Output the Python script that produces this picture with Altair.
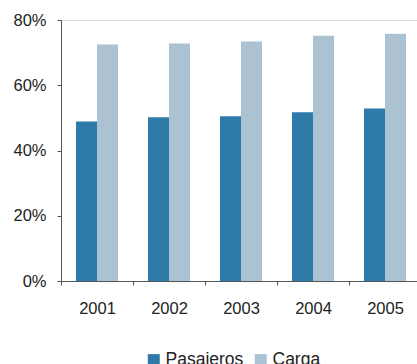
import altair as alt
import pandas as pd

# Share of each traffic type by year
years = ["2001", "2002", "2003", "2004", "2005"]
pasajeros = [0.489, 0.502, 0.505, 0.517, 0.529]
carga = [0.725, 0.728, 0.734, 0.752, 0.758]
series = ["Pasajeros", "Carga"]
colors = ["#2e7aa8", "#aac2d1"]

rows = []
for i, y in enumerate(years):
    rows.append({"year": y, "tipo": "Pasajeros", "valor": pasajeros[i]})
    rows.append({"year": y, "tipo": "Carga", "valor": carga[i]})
df = pd.DataFrame(rows)

FONT = "Liberation Sans"

chart = (
    alt.Chart(df)
    .mark_bar()
    .encode(
        x=alt.X(
            "year:N",
            sort=years,
            scale=alt.Scale(range=[0, 360], paddingInner=0, paddingOuter=0),
            axis=alt.Axis(
                title=None,
                labelAngle=0,
                tickBand="extent",
                tickSize=4,
                labelPadding=15,
                labelFontSize=16.5,
                labelColor="#222222",
                labelFont=FONT,
                domainColor="#555555",
                tickColor="#555555",
            ),
        ),
        xOffset=alt.XOffset(
            "tipo:N",
            sort=series,
            scale=alt.Scale(paddingInner=0, paddingOuter=0.7143),
        ),
        y=alt.Y(
            "valor:Q",
            scale=alt.Scale(domain=[0, 0.8], nice=False),
            axis=alt.Axis(
                title=None,
                values=[0, 0.2, 0.4, 0.6, 0.8],
                format=".0%",
                grid=False,
                tickSize=4,
                labelPadding=11,
                labelFontSize=16.5,
                labelColor="#222222",
                labelFont=FONT,
                domainColor="#555555",
                tickColor="#555555",
            ),
        ),
        color=alt.Color(
            "tipo:N",
            sort=series,
            scale=alt.Scale(domain=series, range=colors),
            legend=alt.Legend(
                title=None,
                orient="none",
                direction="horizontal",
                legendX=84,
                legendY=331,
                padding=0,
                symbolType="square",
                symbolSize=144,
                symbolStrokeWidth=0,
                symbolOpacity=1,
                labelFontSize=17.5,
                labelFont=FONT,
                labelColor="#222222",
                labelOffset=3,
                columnPadding=8,
            ),
        ),
    )
    .properties(
        width=356,
        height=261,
        autosize=alt.AutoSizeParams(type="none"),
        padding={"left": 61, "top": 20, "right": 0, "bottom": 83},
    )
    .configure_view(stroke=None)
    .configure(background="white")
)

chart.save("out.html", embed_options={"renderer": "svg", "actions": False})
